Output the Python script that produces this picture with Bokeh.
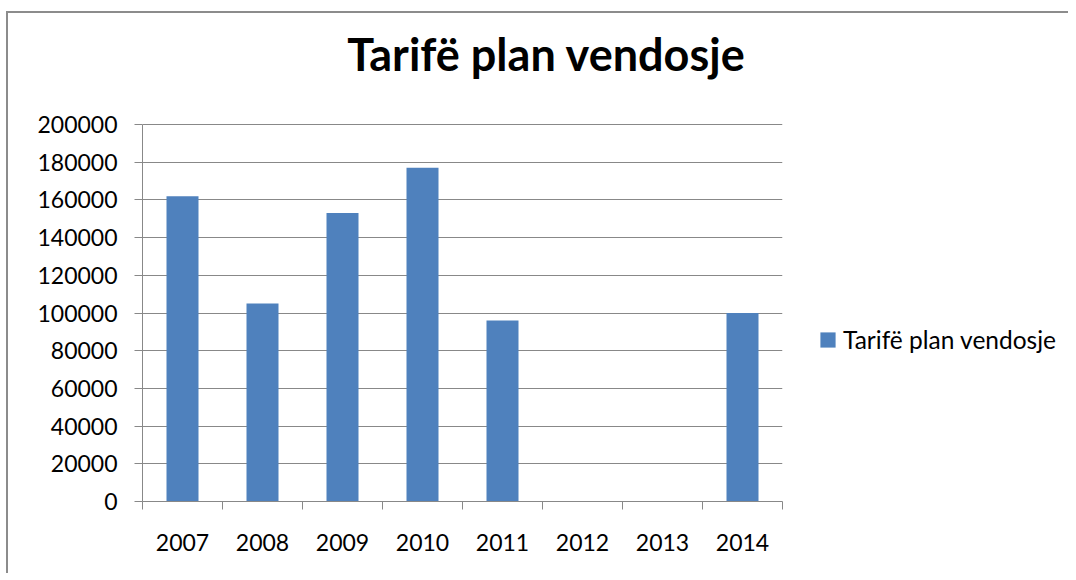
from bokeh.plotting import figure
from bokeh.layouts import row
from bokeh.models import (Range1d, LinearAxis, FixedTicker, NumeralTickFormatter,
                          Legend, LegendItem, Label)
from bokeh.embed import file_html
from bokeh.resources import INLINE

title_text = "Tarifë plan vendosje"
series_name = "Tarifë plan vendosje"
years = ["2007", "2008", "2009", "2010", "2011", "2012", "2013", "2014"]
values = [162000, 105000, 153000, 177000, 96000, 0, 0, 100000]
y_ticks_interval = 20000
y_max = 200000

GRAY = "#888888"
BAR = "#4F81BD"
FONT = "Lato"

n = len(years)
centers = [i + 0.5 for i in range(n)]
edges = list(range(n + 1))
y_ticks = list(range(0, y_max + 1, y_ticks_interval))

# layout (pixels)
W1, H = 792, 560
LEFT, RIGHT, BOTTOM = 134, 18, 72
PLOT_TOP = 111                     # distance from canvas top to the y_max gridline
frame_h = H - BOTTOM
y_top = y_max * frame_h / (frame_h - PLOT_TOP)   # room above the plot for the title

p = figure(width=W1, height=H, x_range=Range1d(0, n), y_range=Range1d(0, y_top),
           output_backend="svg", toolbar_location=None,
           x_axis_location=None, y_axis_location=None,
           min_border_left=LEFT, min_border_right=RIGHT, min_border_top=0, min_border_bottom=BOTTOM)
p.outline_line_color = None
p.background_fill_color = "white"
p.border_fill_color = "white"

r = p.vbar(x=centers, top=values, width=0.4, fill_color=BAR, line_color=None)

# y axis
yax = LinearAxis(ticker=FixedTicker(ticks=y_ticks, minor_ticks=[]),
                 formatter=NumeralTickFormatter(format="0"), bounds=(0, y_max))
yax.axis_line_color = GRAY
yax.major_tick_line_color = GRAY
yax.major_tick_out = 8
yax.major_tick_in = 0
yax.minor_tick_line_color = None
yax.major_label_standoff = 17
yax.major_label_text_font = FONT
yax.major_label_text_font_size = "23px"
yax.major_label_text_color = "black"
p.add_layout(yax, "left")

p.ygrid.ticker = FixedTicker(ticks=y_ticks, minor_ticks=[])
p.ygrid.grid_line_color = GRAY
p.xgrid.grid_line_color = None

# x axis: labels at category centres, tick marks at category boundaries
xax = LinearAxis(ticker=FixedTicker(ticks=centers, minor_ticks=edges),
                 major_label_overrides={c: y for c, y in zip(centers, years)})
xax.axis_line_color = GRAY
xax.major_tick_line_color = None
xax.major_tick_out = 0
xax.major_tick_in = 0
xax.minor_tick_line_color = GRAY
xax.minor_tick_out = 8
xax.minor_tick_in = 0
xax.major_label_standoff = 24
xax.major_label_text_font = FONT
xax.major_label_text_font_size = "23px"
xax.major_label_text_color = "black"
p.add_layout(xax, "below")

# title, centred above the plot area
p.add_layout(Label(x=404, y=448, x_units="screen", y_units="screen", text=title_text,
                   text_font=FONT, text_font_style="bold", text_font_size="45px",
                   text_align="center", text_baseline="alphabetic", text_color="black"))

# legend panel to the right of the chart
p2 = figure(width=1060 - W1, height=H, x_range=Range1d(-2, -1), y_range=Range1d(0, 1),
            output_backend="svg", toolbar_location=None,
            x_axis_location=None, y_axis_location=None,
            min_border_left=0, min_border_right=0, min_border_top=0, min_border_bottom=0)
p2.outline_line_color = None
p2.xgrid.grid_line_color = None
p2.ygrid.grid_line_color = None
p2.background_fill_color = "white"
p2.border_fill_color = "white"
r2 = p2.vbar(x=centers, top=values, width=0.4, fill_color=BAR, line_color=None)

legend = Legend(items=[LegendItem(label=series_name, renderers=[r2])], location=(18, 147),
                orientation="vertical")
legend.border_line_color = None
legend.background_fill_alpha = 0
legend.padding = 0
legend.margin = 0
legend.glyph_width = 19
legend.glyph_height = 19
legend.label_standoff = 6
legend.label_text_font = FONT
legend.label_text_font_size = "24.5px"
legend.label_text_color = "black"
p2.add_layout(legend, "center")

layout = row(p, p2, spacing=0)
layout.styles = {"border-left": "2px solid #8c8c8c", "border-top": "2px solid #8c8c8c",
                 "margin-top": "11px", "margin-left": "6px"}

open("out.html", "w").write(file_html(layout, INLINE))
